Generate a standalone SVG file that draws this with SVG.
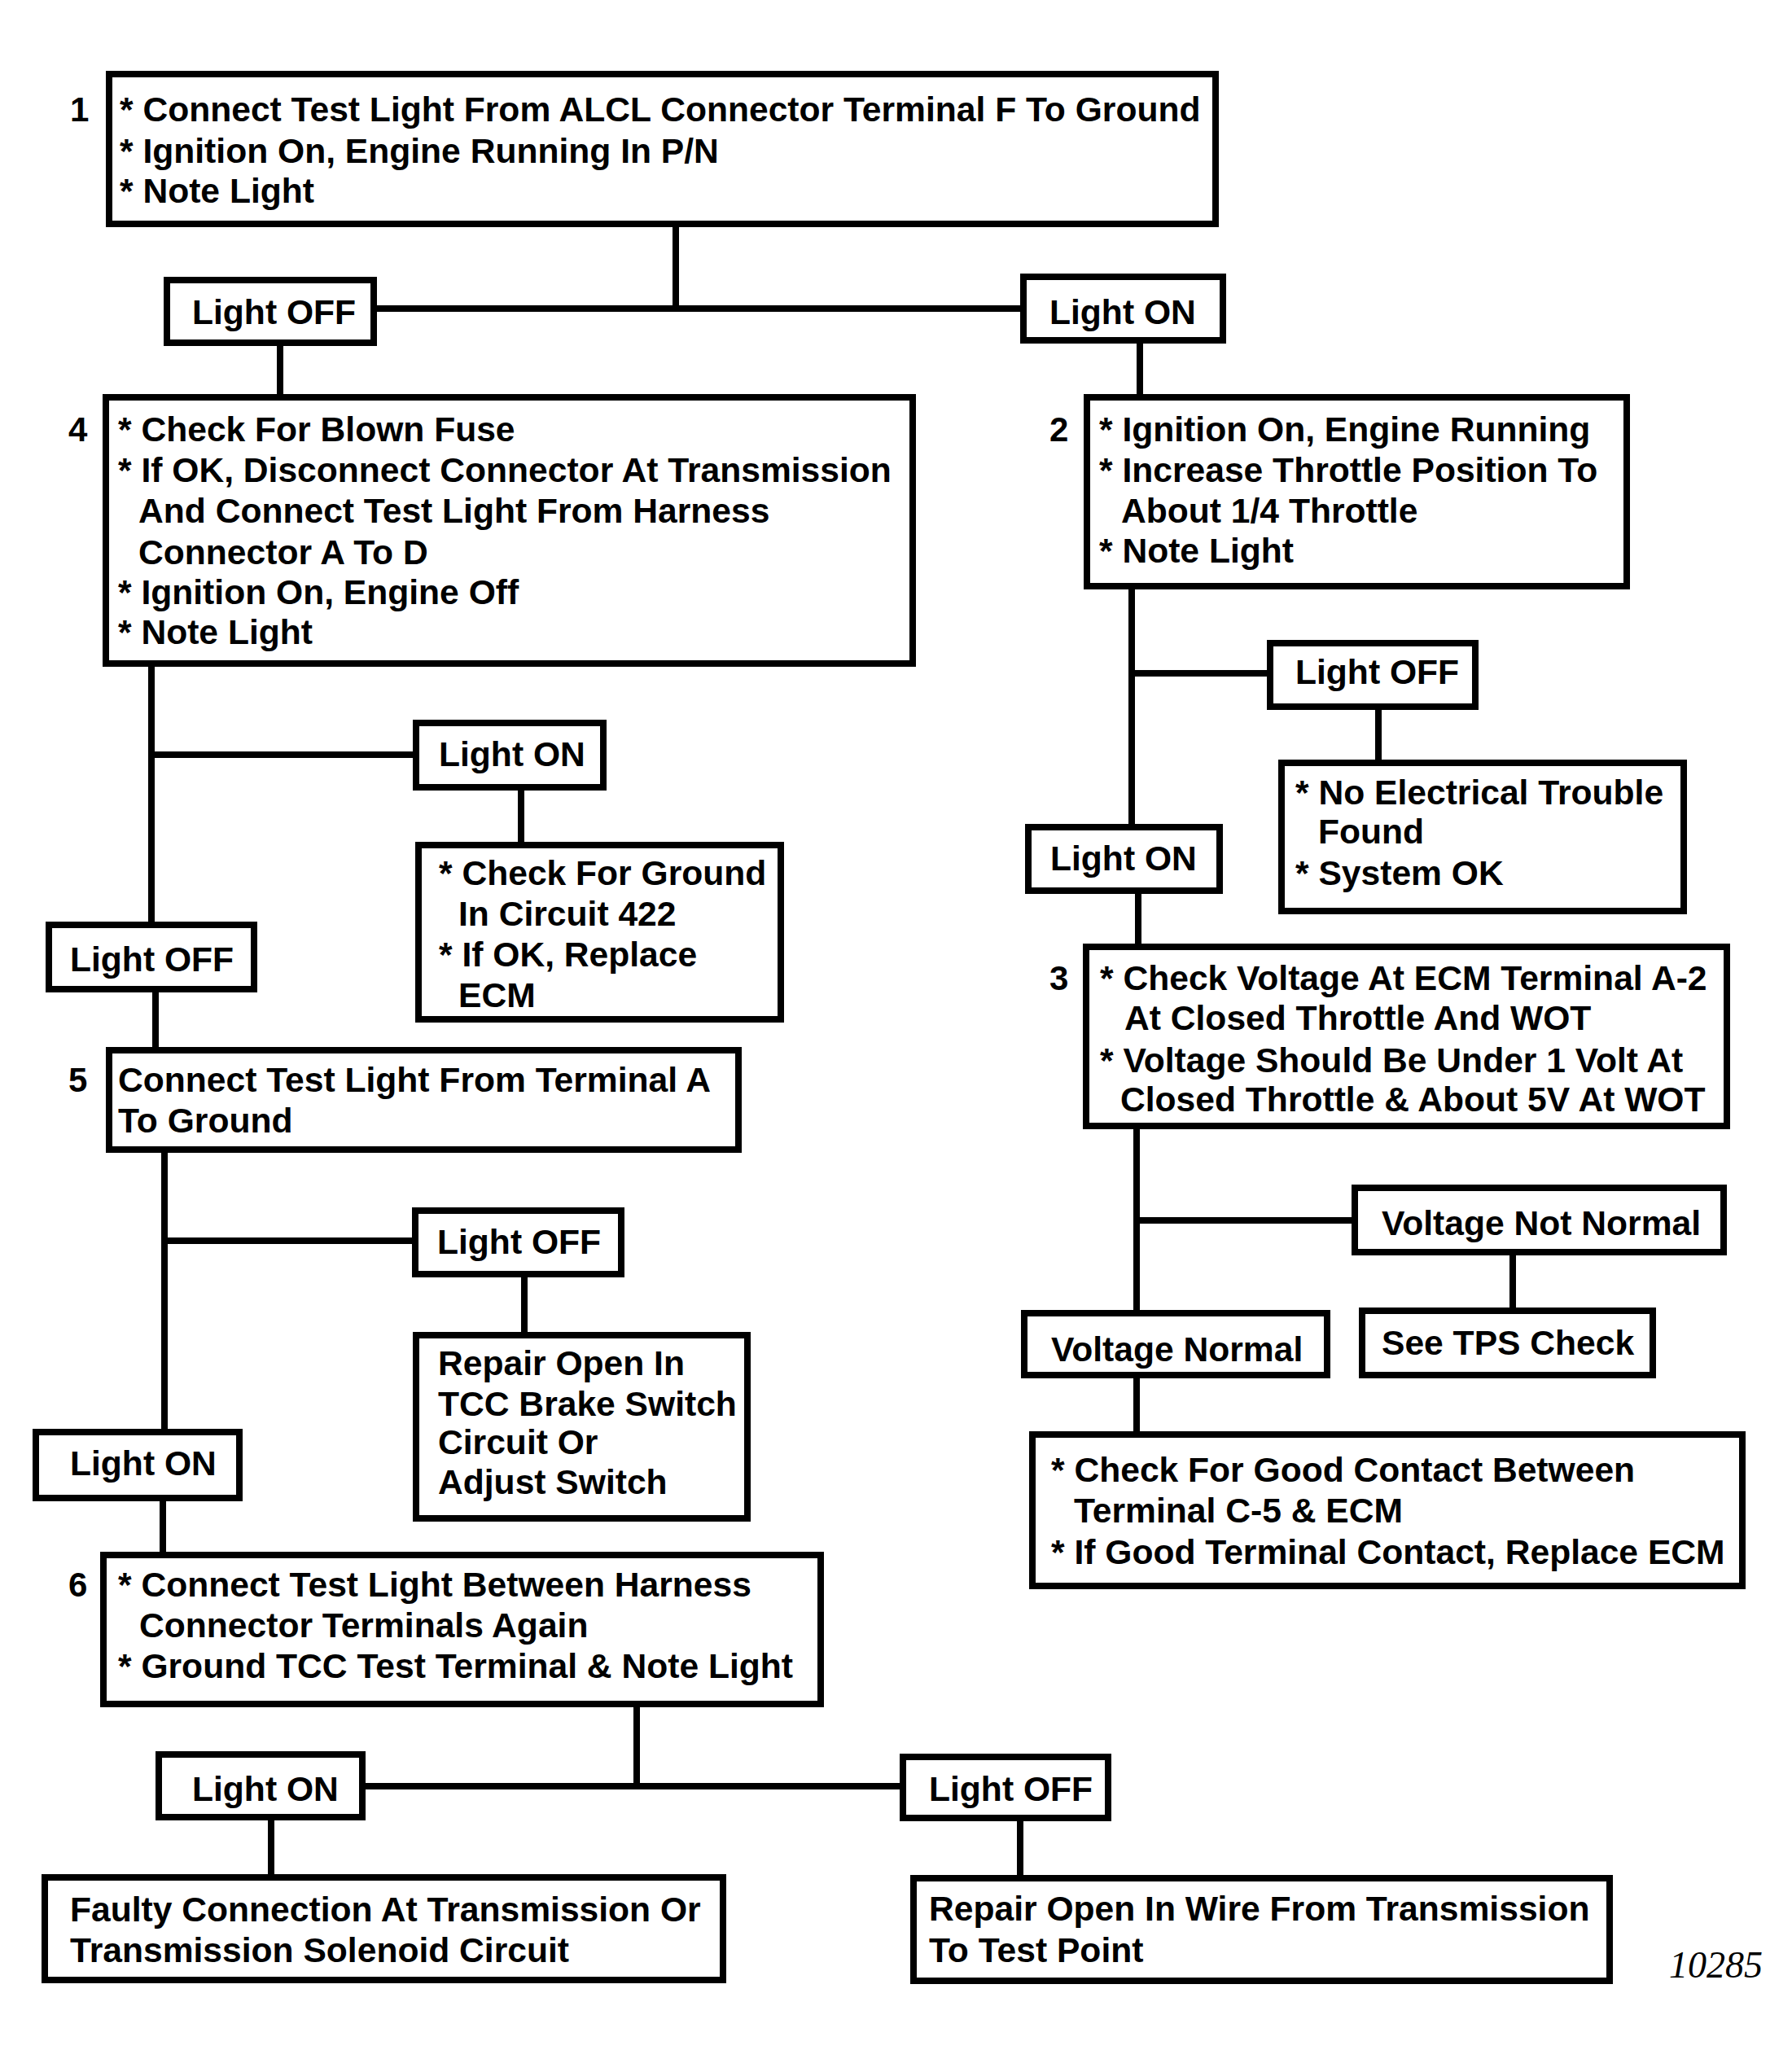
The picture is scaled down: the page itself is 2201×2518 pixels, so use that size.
<svg xmlns="http://www.w3.org/2000/svg" width="2201" height="2518" viewBox="0 0 2201 2518">
<style>
.box{fill:#fff;stroke:#000;stroke-width:8}
.ln{stroke:#000;stroke-width:8;fill:none;stroke-linecap:square}
text{font-family:"Liberation Sans",Arial,sans-serif;font-weight:bold;font-size:42.6px;fill:#000}
.num{font-size:42px}
.fig{font-family:"Liberation Serif","Times New Roman",serif;font-style:italic;font-weight:normal;font-size:46px}
</style>
<rect x="0" y="0" width="2201" height="2518" fill="#fff"/>
<g id="connectors">
<path class="ln" d="M830 279V379M463 379H1253"/>
<path class="ln" d="M344 425V484"/>
<path class="ln" d="M1400 422V484"/>
<path class="ln" d="M1390 724V1012M1390 827H1556"/>
<path class="ln" d="M1693 872V933"/>
<path class="ln" d="M1398 1098V1159"/>
<path class="ln" d="M1396 1387V1609M1396 1499H1660"/>
<path class="ln" d="M1858 1542V1606"/>
<path class="ln" d="M1396 1693V1758"/>
<path class="ln" d="M186 819V1132M186 927H507"/>
<path class="ln" d="M640 971V1034"/>
<path class="ln" d="M191 1219V1286"/>
<path class="ln" d="M202 1416V1755M202 1524H506"/>
<path class="ln" d="M644 1569V1636"/>
<path class="ln" d="M200 1844V1906"/>
<path class="ln" d="M782 2097V2194M449 2194H1105"/>
<path class="ln" d="M333 2236V2302"/>
<path class="ln" d="M1253 2237V2303"/>
</g>
<g id="n1">
<rect class="box" x="134" y="91" width="1359" height="184"/>
<text class="num" x="86" y="149">1</text>
<text x="147" y="149">* Connect Test Light From ALCL Connector Terminal F To Ground</text>
<text x="147" y="200">* Ignition On, Engine Running In P/N</text>
<text x="147" y="249">* Note Light</text>
</g>
<g id="n_off1">
<rect class="box" x="205" y="344" width="254" height="77"/>
<text x="236" y="398">Light OFF</text>
</g>
<g id="n_on1">
<rect class="box" x="1257" y="340" width="245" height="78"/>
<text x="1289" y="398">Light ON</text>
</g>
<g id="n4">
<rect class="box" x="130" y="488" width="991" height="327"/>
<text class="num" x="84" y="542">4</text>
<text x="145" y="542">* Check For Blown Fuse</text>
<text x="145" y="592">* If OK, Disconnect Connector At Transmission</text>
<text x="170" y="642">And Connect Test Light From Harness</text>
<text x="170" y="693">Connector A To D</text>
<text x="145" y="742">* Ignition On, Engine Off</text>
<text x="145" y="791">* Note Light</text>
</g>
<g id="n2">
<rect class="box" x="1335" y="488" width="663" height="232"/>
<text class="num" x="1289" y="542">2</text>
<text x="1350" y="542">* Ignition On, Engine Running</text>
<text x="1350" y="592">* Increase Throttle Position To</text>
<text x="1377" y="642">About 1/4 Throttle</text>
<text x="1350" y="691">* Note Light</text>
</g>
<g id="n_off2">
<rect class="box" x="1560" y="790" width="252" height="78"/>
<text x="1591" y="840">Light OFF</text>
</g>
<g id="n_ok">
<rect class="box" x="1574" y="937" width="494" height="182"/>
<text x="1591" y="988">* No Electrical Trouble</text>
<text x="1619" y="1036">Found</text>
<text x="1591" y="1087">* System OK</text>
</g>
<g id="n_on2">
<rect class="box" x="1263" y="1016" width="235" height="78"/>
<text x="1290" y="1069">Light ON</text>
</g>
<g id="n3">
<rect class="box" x="1334" y="1163" width="787" height="220"/>
<text class="num" x="1289" y="1216">3</text>
<text x="1351" y="1216">* Check Voltage At ECM Terminal A-2</text>
<text x="1381" y="1265">At Closed Throttle And WOT</text>
<text x="1351" y="1317">* Voltage Should Be Under 1 Volt At</text>
<text x="1376" y="1365">Closed Throttle &amp; About 5V At WOT</text>
</g>
<g id="n_vnn">
<rect class="box" x="1664" y="1459" width="453" height="79"/>
<text x="1697" y="1517">Voltage Not Normal</text>
</g>
<g id="n_tps">
<rect class="box" x="1673" y="1610" width="357" height="79"/>
<text x="1697" y="1664">See TPS Check</text>
</g>
<g id="n_vn">
<rect class="box" x="1258" y="1613" width="372" height="76"/>
<text x="1291" y="1672">Voltage Normal</text>
</g>
<g id="n_contact">
<rect class="box" x="1268" y="1762" width="872" height="186"/>
<text x="1291" y="1820">* Check For Good Contact Between</text>
<text x="1319" y="1870">Terminal C-5 &amp; ECM</text>
<text x="1291" y="1921">* If Good Terminal Contact, Replace ECM</text>
</g>
<g id="n_on3">
<rect class="box" x="511" y="888" width="230" height="79"/>
<text x="539" y="941">Light ON</text>
</g>
<g id="n_ground">
<rect class="box" x="514" y="1038" width="445" height="214"/>
<text x="539" y="1087">* Check For Ground</text>
<text x="563" y="1137">In Circuit 422</text>
<text x="539" y="1187">* If OK, Replace</text>
<text x="563" y="1237">ECM</text>
</g>
<g id="n_off3">
<rect class="box" x="60" y="1136" width="252" height="79"/>
<text x="86" y="1193">Light OFF</text>
</g>
<g id="n5">
<rect class="box" x="134" y="1290" width="773" height="122"/>
<text class="num" x="84" y="1341">5</text>
<text x="145" y="1341">Connect Test Light From Terminal A</text>
<text x="145" y="1391">To Ground</text>
</g>
<g id="n_off4">
<rect class="box" x="510" y="1487" width="253" height="78"/>
<text x="537" y="1540">Light OFF</text>
</g>
<g id="n_repair">
<rect class="box" x="511" y="1640" width="407" height="225"/>
<text x="538" y="1689">Repair Open In</text>
<text x="538" y="1739">TCC Brake Switch</text>
<text x="538" y="1786">Circuit Or</text>
<text x="538" y="1835">Adjust Switch</text>
</g>
<g id="n_on4">
<rect class="box" x="44" y="1759" width="250" height="81"/>
<text x="86" y="1812">Light ON</text>
</g>
<g id="n6">
<rect class="box" x="127" y="1910" width="881" height="183"/>
<text class="num" x="84" y="1961">6</text>
<text x="145" y="1961">* Connect Test Light Between Harness</text>
<text x="171" y="2011">Connector Terminals Again</text>
<text x="145" y="2061">* Ground TCC Test Terminal &amp; Note Light</text>
</g>
<g id="n_on5">
<rect class="box" x="195" y="2155" width="250" height="77"/>
<text x="236" y="2212">Light ON</text>
</g>
<g id="n_off5">
<rect class="box" x="1109" y="2158" width="252" height="75"/>
<text x="1141" y="2212">Light OFF</text>
</g>
<g id="n_faulty">
<rect class="box" x="55" y="2306" width="833" height="126"/>
<text x="86" y="2360">Faulty Connection At Transmission Or</text>
<text x="86" y="2410">Transmission Solenoid Circuit</text>
</g>
<g id="n_wire">
<rect class="box" x="1122" y="2307" width="855" height="126"/>
<text x="1141" y="2359">Repair Open In Wire From Transmission</text>
<text x="1141" y="2410">To Test Point</text>
</g>
<text class="fig" x="2050" y="2429">10285</text>
</svg>
